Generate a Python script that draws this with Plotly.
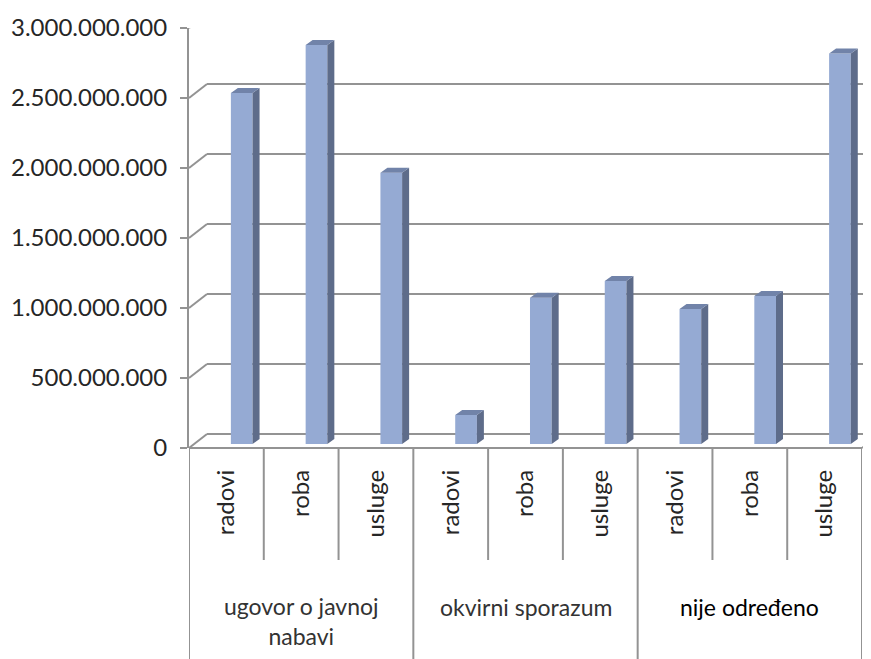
import plotly.graph_objects as go

# ---------------- data ----------------
groups = ["ugovor o javnoj<br>nabavi", "okvirni sporazum", "nije određeno"]
subcats = ["radovi", "roba", "usluge"]
ugovor_values = [2507000000, 2850000000, 1937000000]
okvirni_values = [207000000, 1045000000, 1164000000]
nije_values = [964000000, 1057000000, 2790000000]
y_ticks = [0, 500000000, 1000000000, 1500000000, 2000000000, 2500000000, 3000000000]

values = ugovor_values + okvirni_values + nije_values
labels = subcats * 3
idx = list(range(len(values)))

# ---------------- geometry helpers (pixels of the 871x659 view) ----------------
W, H = 871, 659
PAGE_OFF = 8  # default body margin of the html page


def fx(px):
    return (px - PAGE_OFF) / W


def fy(py):
    return 1 - (py - PAGE_OFF) / H


X_LEFT, X_RIGHT = 189, 862        # front category axis
Y_ZERO, Y_TOP = 448, 28            # front value axis
DEPTH_X, DEPTH_Y = 18, 14          # back wall offset
BAR_SHIFT = 4                      # bar base above front floor
PX_PER_UNIT = (Y_ZERO - Y_TOP) / 3e9

GRID = "#939393"
FRONT = "#95AAD3"
SIDE = "#5E6C8A"
TOP = "#7183A9"
FONT = "Lato"

BAR_OFF = 0.06
BAR_W = 0.29
SIDE_DX = 7 / ((X_RIGHT - X_LEFT) / 9)
CAP_DY = 5 / PX_PER_UNIT

fig = go.Figure()

# front faces
fig.add_trace(go.Bar(x=idx, y=values, offset=BAR_OFF, width=BAR_W,
                     marker=dict(color=FRONT, line=dict(width=0)),
                     xaxis="x", yaxis="y3", hoverinfo="skip", showlegend=False))

# side faces and top caps
sx, sy, tx, ty = [], [], [], []
for i, v in zip(idx, values):
    x0 = i + BAR_OFF
    x1 = x0 + BAR_W
    sx += [x1, x1 + SIDE_DX, x1 + SIDE_DX, x1, x1, None]
    sy += [0, CAP_DY, v + CAP_DY, v, 0, None]
    tx += [x0, x0 + SIDE_DX, x1 + SIDE_DX, x1, x0, None]
    ty += [v, v + CAP_DY, v + CAP_DY, v, v, None]
fig.add_trace(go.Scatter(x=sx, y=sy, fill="toself", fillcolor=SIDE, mode="lines",
                         line=dict(width=0, color=SIDE), xaxis="x", yaxis="y3",
                         hoverinfo="skip", showlegend=False))
fig.add_trace(go.Scatter(x=tx, y=ty, fill="toself", fillcolor=TOP, mode="lines",
                         line=dict(width=0, color=TOP), xaxis="x", yaxis="y3",
                         hoverinfo="skip", showlegend=False))

fig.update_layout(
    template="none",
    width=W, height=H,
    margin=dict(l=0, r=0, t=0, b=0, pad=0),
    autosize=False,
    paper_bgcolor="white", plot_bgcolor="rgba(0,0,0,0)",
    separators=",.",
    font=dict(family=FONT, color="#262626"),
    xaxis=dict(domain=[fx(X_LEFT), fx(X_RIGHT)], range=[-0.5, 8.5],
               tickmode="array", tickvals=idx, ticktext=labels,
               tickangle=-90, ticks="", showline=False, showgrid=False,
               zeroline=False, tickfont=dict(size=24, color="#262626"),
               ticklabelstandoff=16, anchor="y", automargin=False, fixedrange=True),
    yaxis=dict(domain=[fy(Y_ZERO), fy(Y_TOP)], range=[0, 3e9],
               tickmode="array", tickvals=y_ticks, tickformat=",d",
               ticks="outside", ticklen=7, tickwidth=2, tickcolor=GRID,
               showline=True, linecolor=GRID, linewidth=2,
               showgrid=False, zeroline=False, anchor="x", automargin=False,
               tickfont=dict(size=24, color="#262626"), ticklabelstandoff=8),
    yaxis3=dict(domain=[fy(Y_ZERO - BAR_SHIFT), fy(Y_TOP - BAR_SHIFT)], range=[0, 3e9],
                visible=False, anchor="x", automargin=False),
)

shapes = []
line = dict(color=GRID, width=2)
# back wall gridlines and diagonal connectors from value ticks
for t in y_ticks:
    yb = t + DEPTH_Y / PX_PER_UNIT
    shapes.append(dict(type="line", xref="paper", yref="y",
                       x0=fx(X_LEFT), x1=fx(X_LEFT + DEPTH_X),
                       y0=t, y1=yb, line=line, layer="below"))
    shapes.append(dict(type="line", xref="paper", yref="y",
                       x0=fx(X_LEFT + DEPTH_X), x1=1,
                       y0=yb, y1=yb, line=line, layer="below"))
# front floor edge and right diagonal
shapes.append(dict(type="line", xref="paper", yref="paper",
                   x0=fx(X_LEFT), x1=fx(X_RIGHT), y0=fy(Y_ZERO), y1=fy(Y_ZERO), line=line))
shapes.append(dict(type="line", xref="paper", yref="paper",
                   x0=fx(X_RIGHT), x1=fx(X_RIGHT + 10), y0=fy(Y_ZERO), y1=fy(Y_ZERO - 7), line=line))
# category dividers
for b in range(len(values) + 1):
    xb = b - 0.5
    bottom = 0 if b % 3 == 0 else fy(560)
    shapes.append(dict(type="line", xref="x", yref="paper",
                       x0=xb, x1=xb, y0=fy(Y_ZERO), y1=bottom, line=line))
fig.update_layout(shapes=shapes)

# group labels
group_centres = [1, 4, 7]
group_y = [621, 607, 607]
for g, c, yy in zip(groups, group_centres, group_y):
    bold = g == "nije određeno"
    fig.add_annotation(x=c, y=fy(yy), xref="x", yref="paper", text=g,
                       showarrow=False, xanchor="center", yanchor="middle",
                       font=dict(size=23, family=FONT, color="#000000" if bold else "#333333"))

fig.write_html("out.html")
